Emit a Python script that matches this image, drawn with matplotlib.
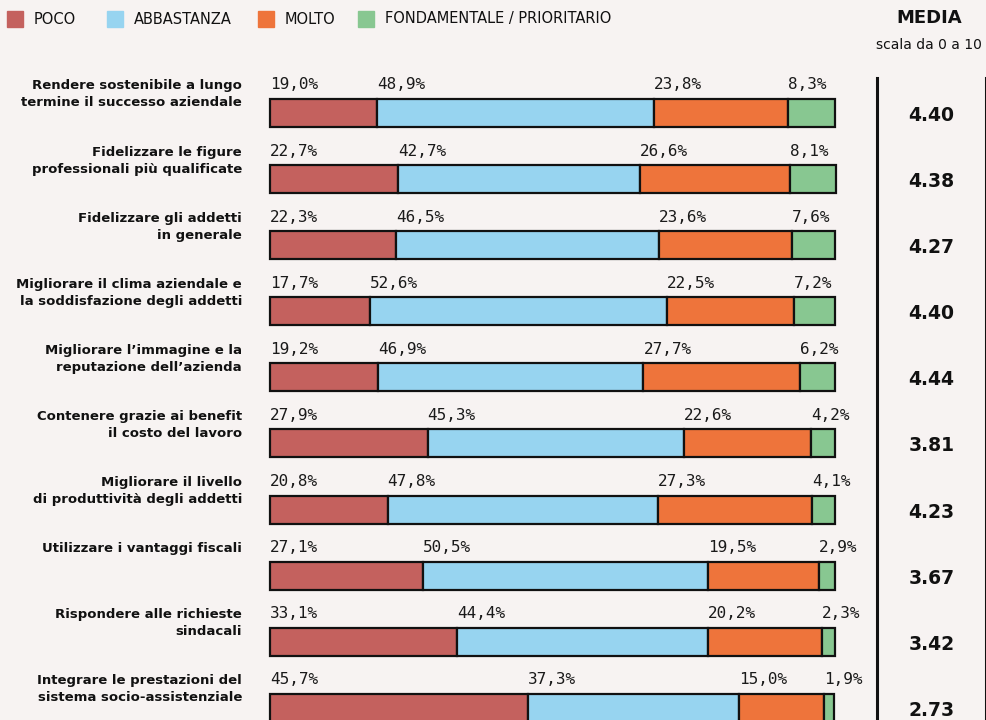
import numpy as np
import matplotlib.pyplot as plt
from matplotlib import transforms
from matplotlib.patches import Rectangle

# data
categories = [
    "Rendere sostenibile a lungo\ntermine il successo aziendale",
    "Fidelizzare le figure\nprofessionali più qualificate",
    "Fidelizzare gli addetti\nin generale",
    "Migliorare il clima aziendale e\nla soddisfazione degli addetti",
    "Migliorare l\u2019immagine e la\nreputazione dell\u2019azienda",
    "Contenere grazie ai benefit\nil costo del lavoro",
    "Migliorare il livello\ndi produttività degli addetti",
    "Utilizzare i vantaggi fiscali",
    "Rispondere alle richieste\nsindacali",
    "Integrare le prestazioni del\nsistema socio-assistenziale",
]
poco = [19.0, 22.7, 22.3, 17.7, 19.2, 27.9, 20.8, 27.1, 33.1, 45.7]
abbastanza = [48.9, 42.7, 46.5, 52.6, 46.9, 45.3, 47.8, 50.5, 44.4, 37.3]
molto = [23.8, 26.6, 23.6, 22.5, 27.7, 22.6, 27.3, 19.5, 20.2, 15.0]
fondamentale = [8.3, 8.1, 7.6, 7.2, 6.2, 4.2, 4.1, 2.9, 2.3, 1.9]
media = [4.40, 4.38, 4.27, 4.40, 4.44, 3.81, 4.23, 3.67, 3.42, 2.73]

series_names = ["POCO", "ABBASTANZA", "MOLTO", "FONDAMENTALE / PRIORITARIO"]
colors = ["#c4615e", "#97d4f0", "#ee743b", "#88c791"]
bg = "#f7f3f2"

W, H = 986, 720
fig = plt.figure(figsize=(W / 100, H / 100), dpi=100, facecolor=bg)

# row geometry in pixels
row0, step = 113.0, 66.1
ytop = -row0 / step
ybot = (H - row0) / step

ax = fig.add_axes([270 / W, 0, 565 / W, 1])
ax.set_facecolor("none")
ax.set_xlim(0, 100)
ax.set_ylim(ybot, ytop)
ax.axis("off")

y = np.arange(len(categories))
left = np.zeros(len(categories))
bar_h = 28 / step
for vals, col in zip([poco, abbastanza, molto, fondamentale], colors):
    vals = np.array(vals)
    ax.barh(y, vals, left=left, height=bar_h, color=col,
            edgecolor="#111111", linewidth=1.6, clip_on=False)
    for yi, l, v in zip(y, left, vals):
        ax.text(l, yi - 0.356, f"{v:.1f}%".replace(".", ","),
                ha="left", va="baseline", fontsize=11.5,
                family="DejaVu Sans Mono", color="#1a1a1a")
    left = left + vals

# category labels: first line baseline level with the percentages
lab_tr = transforms.blended_transform_factory(ax.transAxes, ax.transData)
for yi, cat in zip(y, categories):
    lines = cat.split("\n")
    for k, line in enumerate(lines):
        ax.text((242 - 270) / 565, yi - 0.356 + k * 17 / step, line,
                transform=lab_tr, ha="right", va="baseline", fontsize=9.5,
                fontweight="bold", color="#111111")

# media column
top_px = 78
ax2 = fig.add_axes([877 / W, 0, (W - 877) / W, (H - top_px) / H])
ax2.set_facecolor("none")
ax2.set_xlim(0, 1)
ax2.set_ylim(ybot, (top_px - row0) / step)
ax2.set_xticks([])
ax2.set_yticks([])
for s in ["top", "bottom"]:
    ax2.spines[s].set_visible(False)
for s in ["left", "right"]:
    ax2.spines[s].set_linewidth(2.2)
    ax2.spines[s].set_color("#111111")
for yi, m in zip(y, media):
    ax2.text(0.5, yi + 0.12, f"{m:.2f}", ha="center", va="baseline",
             fontsize=13.5, fontweight="bold", color="#111111")

fig.text(929 / W, 1 - 18 / H, "MEDIA", ha="center", va="center",
         fontsize=13, fontweight="bold", color="#111111")
fig.text(929 / W, 1 - 45 / H, "scala da 0 a 10", ha="center", va="center",
         fontsize=10, color="#111111")

# legend
leg_x = [7, 107, 258, 358]
for lx, name, col in zip(leg_x, series_names, colors):
    fig.add_artist(Rectangle((lx / W, 1 - 27 / H), 16 / W, 16 / H,
                             transform=fig.transFigure, color=col))
    fig.text((lx + 27) / W, 1 - 19 / H, name, ha="left", va="center",
             fontsize=10.5, color="#111111")

fig.savefig("out.png", dpi=100, facecolor=bg)
